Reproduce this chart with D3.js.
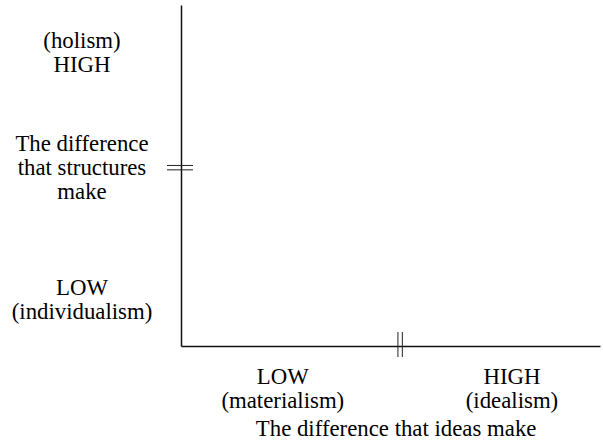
<!DOCTYPE html>
<html>
<head>
<meta charset="utf-8">
<script src="https://cdn.jsdelivr.net/npm/d3@7"></script>
<style>
  body { margin: 0; background: #fff; }
</style>
</head>
<body>
<div class="canvas"></div>
<script>
// data, in axis units (0 = low end, 1 = high end)
const xLevels = [
  { value: 0.243, lines: ['LOW', '(materialism)'] },
  { value: 0.79,  lines: ['HIGH', '(idealism)'] }
];
const yLevels = [
  { value: 0.86,  lines: ['(holism)', 'HIGH'] },
  { value: 0.135, lines: ['LOW', '(individualism)'] }
];
const xTitle = ['The difference that ideas make'];
const yTitle = ['The difference', 'that structures', 'make'];
const breakAt = 0.523; // where the // marks sit on both axes

const width = 603, height = 445;
const fontSize = 22.8, lineH = 24;

const svg = d3.select('.canvas')
    .append('svg')
    .attr('width', width)
    .attr('height', height);

// labels first, in their own group with the serif font
const labels = svg.append('g')
    .attr('font-family', 'Liberation Serif')
    .style('font-family', '"Liberation Serif"')
    .style('font-size', fontSize + 'px');

// scales
const x = d3.scaleLinear().domain([0, 1]).range([181, 600]);
const y = d3.scaleLinear().domain([0, 1]).range([346, 5]);

// multi line label helper, one text per line
const label = (lines, cx, base) => {
  lines.forEach((l, i) => {
    labels.append('text')
      .attr('x', cx)
      .attr('y', base + i * lineH)
      .attr('text-anchor', 'middle')
      .style('font-family', '"Liberation Serif"')
      .style('font-size', fontSize + 'px')
      .text(l);
  });
};

// y side: centre block vertically on the value
const leftX = 82;
yLevels.forEach(d => {
  const mid = y(d.value);
  const base = mid - (d.lines.length - 1) * lineH / 2 + 7;
  label(d.lines, leftX, base);
});
label(yTitle, leftX, y(breakAt) - lineH + 7);

// x side
xLevels.forEach(d => {
  label(d.lines, x(d.value), y(0) + 38);
});
label(xTitle, x(breakAt) - 4, y(0) + 90);

// axes, just the domain line
const xAxis = d3.axisBottom(x).tickValues([]).tickSizeOuter(0);
const yAxis = d3.axisLeft(y).tickValues([]).tickSizeOuter(0);

svg.append('g')
    .attr('transform', `translate(0, ${y(0)})`)
    .call(xAxis)
    .select('.domain').attr('stroke', '#111').attr('stroke-width', 1.5);

svg.append('g')
    .attr('transform', `translate(${x(0)}, 0)`)
    .call(yAxis)
    .select('.domain').attr('stroke', '#111').attr('stroke-width', 1.5);

// break marks
const gap = 2.2;
[-gap, gap].forEach(d => {
  svg.append('line')
    .attr('x1', x(breakAt) + d).attr('x2', x(breakAt) + d)
    .attr('y1', y(0) - 14).attr('y2', y(0) + 11)
    .attr('stroke', '#222').attr('stroke-width', 1);
  svg.append('line')
    .attr('x1', x(0) - 14).attr('x2', x(0) + 12)
    .attr('y1', y(breakAt) + d).attr('y2', y(breakAt) + d)
    .attr('stroke', '#222').attr('stroke-width', 1);
});
</script>
</body>
</html>
